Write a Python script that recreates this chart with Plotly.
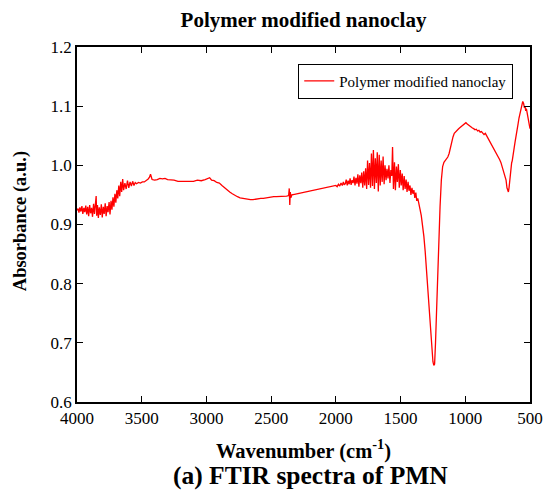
import plotly.graph_objects as go

# Wavenumber (cm-1) and absorbance
wavenumber = [
    4000, 3992, 3985, 3978, 3970, 3962, 3955, 3947, 3940, 3932, 3925, 3917, 3910, 3902,
    3895, 3887, 3880, 3872, 3865, 3858, 3852, 3848, 3842, 3835, 3828, 3820, 3812, 3805,
    3797, 3790, 3782, 3775, 3767, 3760, 3752, 3745, 3737, 3730, 3722, 3715, 3707, 3700,
    3692, 3685, 3677, 3670, 3662, 3655, 3647, 3640, 3630, 3620, 3610, 3600, 3590, 3580,
    3570, 3560, 3550, 3540, 3525, 3510, 3495, 3480, 3465, 3450, 3440, 3432, 3420, 3400,
    3380, 3360, 3340, 3320, 3300, 3280, 3250, 3220, 3190, 3160, 3130, 3100, 3070, 3040,
    3010, 2990, 2975, 2960, 2940, 2920, 2900, 2880, 2860, 2840, 2820, 2800, 2780, 2760,
    2740, 2720, 2700, 2680, 2660, 2640, 2620, 2600, 2580, 2560, 2540, 2520, 2500, 2480,
    2460, 2440, 2420, 2400, 2380, 2365, 2360, 2356, 2352, 2348, 2340, 2320, 2300, 2280,
    2260, 2240, 2220, 2200, 2180, 2160, 2140, 2120, 2100, 2080, 2060, 2040, 2020, 2000,
    1990, 1980, 1970, 1960, 1950, 1942, 1935, 1927, 1920, 1912, 1905, 1897, 1890, 1882,
    1875, 1867, 1860, 1852, 1845, 1837, 1830, 1822, 1815, 1807, 1800, 1792, 1785, 1777,
    1770, 1762, 1755, 1747, 1740, 1732, 1725, 1717, 1710, 1702, 1695, 1687, 1680, 1672,
    1665, 1657, 1650, 1642, 1635, 1627, 1620, 1612, 1605, 1597, 1590, 1582, 1575, 1568,
    1562, 1555, 1547, 1540, 1532, 1525, 1517, 1510, 1502, 1495, 1487, 1480, 1472, 1465,
    1457, 1450, 1442, 1435, 1427, 1420, 1412, 1405, 1397, 1390, 1382, 1375, 1367, 1360,
    1350, 1340, 1330, 1320, 1310, 1300, 1290, 1280, 1270, 1260, 1250, 1243, 1237, 1230,
    1222, 1215, 1205, 1195, 1185, 1175, 1165, 1155, 1145, 1135, 1125, 1115, 1105, 1095,
    1085, 1075, 1065, 1055, 1045, 1035, 1025, 1015, 1005, 995, 985, 975, 965, 955,
    945, 935, 925, 915, 905, 895, 885, 875, 865, 855, 845, 835, 825, 815,
    805, 795, 785, 775, 765, 755, 745, 735, 725, 715, 705, 695, 685, 678,
    672, 667, 662, 657, 652, 647, 642, 637, 632, 627, 622, 615, 608, 600,
    592, 585, 578, 570, 563, 556, 549, 543, 538, 533, 528, 522, 516, 510,
    505, 500,
]
absorbance = [
    0.924, 0.927, 0.920, 0.929, 0.922, 0.931, 0.918, 0.928, 0.921, 0.932, 0.917, 0.930, 0.914, 0.933,
    0.919, 0.928, 0.913, 0.935, 0.918, 0.930, 0.948, 0.915, 0.933, 0.911, 0.929, 0.916, 0.934, 0.912,
    0.930, 0.918, 0.936, 0.914, 0.931, 0.921, 0.938, 0.917, 0.940, 0.925, 0.946, 0.930, 0.952, 0.937,
    0.958, 0.944, 0.966, 0.948, 0.972, 0.955, 0.977, 0.958, 0.970, 0.960, 0.974, 0.962, 0.972, 0.965,
    0.973, 0.966, 0.971, 0.969, 0.971, 0.970, 0.972, 0.972, 0.974, 0.977, 0.980, 0.985, 0.976, 0.975,
    0.976, 0.978, 0.977, 0.978, 0.976, 0.976, 0.975, 0.973, 0.973, 0.973, 0.974, 0.973, 0.975, 0.974,
    0.976, 0.977, 0.979, 0.975, 0.974, 0.971, 0.970, 0.966, 0.962, 0.958, 0.955, 0.952, 0.949, 0.947,
    0.945, 0.944, 0.943, 0.943, 0.942, 0.942, 0.943, 0.943, 0.944, 0.944, 0.945, 0.946, 0.946, 0.947,
    0.947, 0.947, 0.948, 0.948, 0.948, 0.949, 0.961, 0.933, 0.955, 0.945, 0.950, 0.951, 0.952, 0.953,
    0.954, 0.955, 0.956, 0.957, 0.958, 0.959, 0.960, 0.961, 0.962, 0.963, 0.963, 0.964, 0.965, 0.966,
    0.964, 0.968, 0.965, 0.970, 0.966, 0.972, 0.967, 0.969, 0.976, 0.966, 0.974, 0.968, 0.978, 0.967,
    0.975, 0.970, 0.981, 0.966, 0.979, 0.969, 0.985, 0.964, 0.983, 0.970, 0.988, 0.962, 0.990, 0.966,
    0.995, 0.960, 1.008, 0.967, 1.004, 0.962, 1.020, 0.965, 1.026, 0.960, 1.012, 0.970, 1.022, 0.956,
    1.018, 0.966, 1.008, 0.972, 1.015, 0.968, 1.000, 0.975, 0.994, 0.978, 1.000, 0.970, 0.992, 0.982,
    1.031, 0.960, 1.005, 0.958, 0.998, 0.972, 1.002, 0.962, 0.992, 0.966, 0.986, 0.958, 0.982, 0.960,
    0.976, 0.955, 0.972, 0.957, 0.966, 0.950, 0.962, 0.952, 0.958, 0.945, 0.954, 0.940, 0.944, 0.934,
    0.926, 0.915, 0.900, 0.880, 0.855, 0.825, 0.790, 0.755, 0.720, 0.690, 0.668, 0.662, 0.664, 0.700,
    0.760, 0.820, 0.880, 0.930, 0.975, 0.998, 1.005, 1.008, 1.011, 1.014, 1.020, 1.030, 1.040, 1.048,
    1.054, 1.057, 1.060, 1.061, 1.063, 1.065, 1.067, 1.069, 1.070, 1.072, 1.070, 1.068, 1.066, 1.065,
    1.063, 1.062, 1.060, 1.061, 1.058, 1.059, 1.056, 1.057, 1.055, 1.052, 1.054, 1.050, 1.046, 1.042,
    1.040, 1.036, 1.032, 1.028, 1.024, 1.020, 1.015, 1.010, 1.005, 0.998, 0.992, 0.985, 0.975, 0.962,
    0.955, 0.955, 0.962, 0.975, 0.990, 0.996, 1.004, 1.008, 1.020, 1.024, 1.030, 1.040, 1.052, 1.060,
    1.070, 1.080, 1.088, 1.096, 1.100, 1.108, 1.104, 1.097, 1.100, 1.092, 1.096, 1.088, 1.080, 1.072,
    1.066, 1.062,
]

x_ticks = [4000, 3500, 3000, 2500, 2000, 1500, 1000, 500]
y_ticks = [0.6, 0.7, 0.8, 0.9, 1.0, 1.1, 1.2]

SERIF = "Liberation Serif, Times New Roman, serif"

fig = go.Figure()
fig.add_trace(go.Scatter(
    x=wavenumber, y=absorbance, mode="lines",
    line=dict(color="#ff0000", width=1.3),
    name="Polymer modified nanoclay",
))

axis_common = dict(
    showline=True, linecolor="black", linewidth=1.6, mirror="ticks",
    ticks="inside", ticklen=6, tickwidth=1.2, tickcolor="black",
    showgrid=False, zeroline=False,
    tickfont=dict(family=SERIF, size=17, color="black"),
)

fig.update_layout(
    width=555, height=492,
    margin=dict(l=77, r=17, t=47, b=90),
    paper_bgcolor="white", plot_bgcolor="white",
    title=dict(text="<b>Polymer modified nanoclay</b>", x=0.5, xref="paper", xanchor="center",
               y=1 - 20 / 492, yanchor="middle",
               font=dict(family=SERIF, size=21, color="black")),
    xaxis=dict(range=[4000, 500], tickvals=x_ticks,
               ticktext=[str(v) for v in x_ticks], **axis_common),
    yaxis=dict(range=[0.6, 1.2], tickvals=y_ticks,
               ticktext=[f"{v:.1f}" for v in y_ticks], **axis_common),
    showlegend=True,
    legend=dict(x=0.963, y=0.953, xanchor="right", yanchor="top",
                bordercolor="black", borderwidth=1, bgcolor="white",
                itemwidth=30, tracegroupgap=0,
                font=dict(family=SERIF, size=15, color="black")),
)

fig.add_annotation(text="<b>Absorbance (a.u.)</b>", xref="paper", yref="paper",
                   x=-0.123, y=0.51, xanchor="center", yanchor="middle", showarrow=False,
                   textangle=-90, font=dict(family=SERIF, size=18.5, color="black"))
fig.add_annotation(text="<b>Wavenumber (cm<sup>-1</sup>)</b>", xref="paper", yref="paper",
                   x=0.5, y=-0.135, xanchor="center", yanchor="middle", showarrow=False,
                   font=dict(family=SERIF, size=20.5, color="black"))
fig.add_annotation(text="<b>(a) FTIR spectra of PMN</b>", xref="paper", yref="paper",
                   x=0.515, y=-0.208, xanchor="center", yanchor="middle", showarrow=False,
                   font=dict(family=SERIF, size=25.5, color="black"))

fig.write_html("out.html")
